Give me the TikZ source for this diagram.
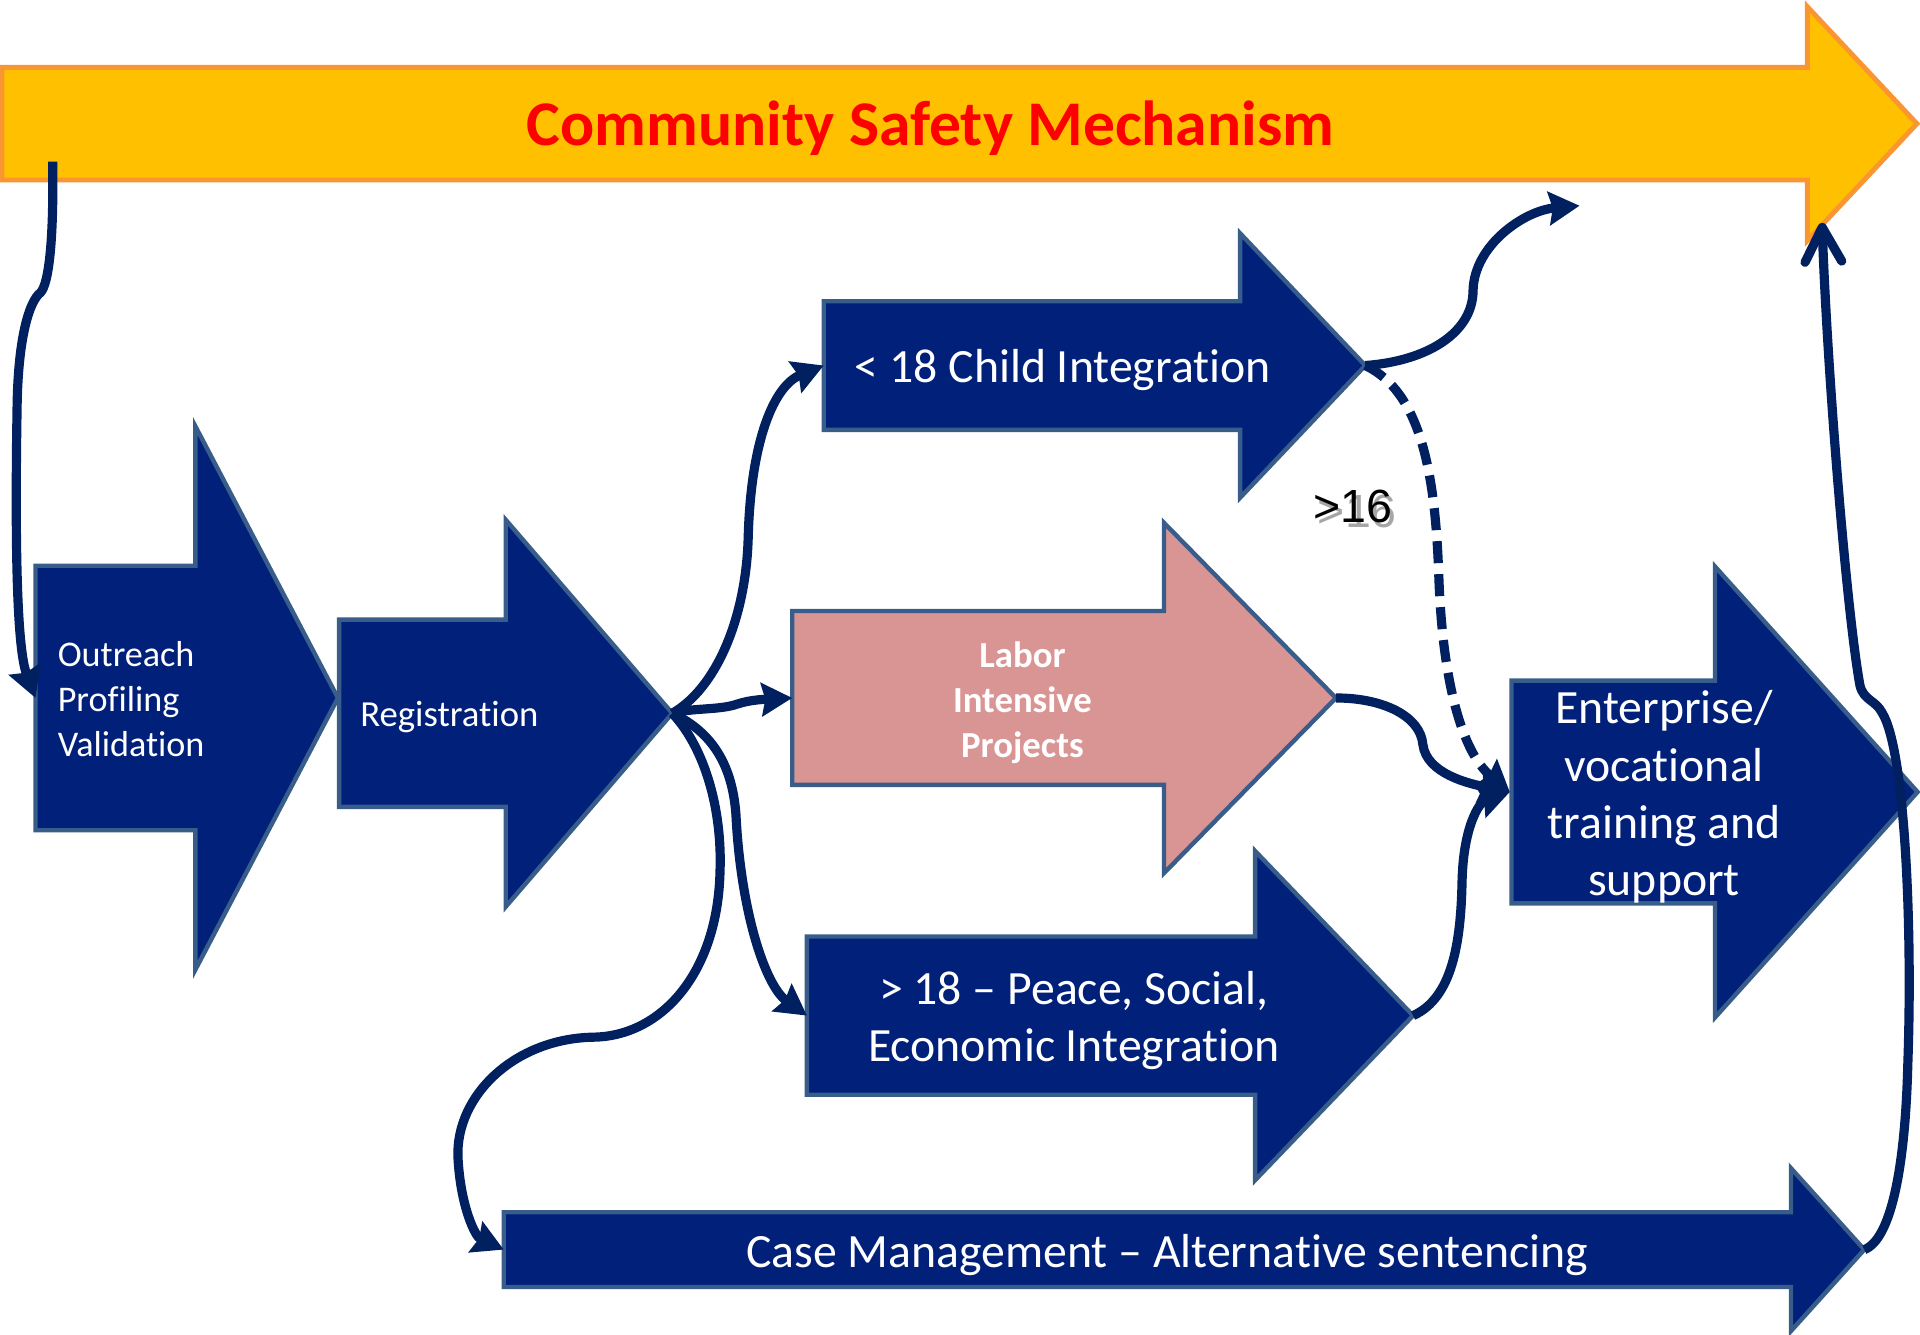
\documentclass[tikz,border=0pt]{standalone}
\usepackage{fontspec}
\setmainfont{Carlito}[Ligatures=NoCommon]
\newfontfamily\labelfont{Liberation Sans}
\usetikzlibrary{arrows.meta}

\definecolor{boxblue}{RGB}{0,32,122}
\definecolor{edgeblue}{RGB}{56,93,138}
\definecolor{linknavy}{RGB}{0,32,96}
\definecolor{bandgold}{RGB}{255,192,0}
\definecolor{bandedge}{RGB}{250,150,50}
\definecolor{laborpink}{RGB}{217,149,148}
\definecolor{titlered}{RGB}{255,0,0}

\begin{document}
\begin{tikzpicture}[x=1pt,y=-1pt,
  blockarrow/.style={fill=boxblue,draw=edgeblue,line width=3.6pt,line join=miter},
  bandarrow/.style={fill=bandgold,draw=bandedge,line width=4pt,line join=miter},
  pinkarrow/.style={fill=laborpink,draw=edgeblue,line width=3.6pt,line join=miter},
  flow/.style={draw=linknavy,line width=7.5pt,
    -{Stealth[length=25pt,width=27pt,inset=3pt]}},
  returnflow/.style={draw=linknavy,line width=7.5pt,
    -{Straight Barb[length=28pt,width=30pt,round]}},
  dashflow/.style={flow,dash pattern=on 18pt off 9pt},
  bigtext/.style={text=white,inner sep=0pt,font=\fontsize{39}{46.8}\selectfont,align=center},
  smalltext/.style={text=white,inner sep=0pt,font=\fontsize{29.5}{37}\selectfont,align=left},
]
\useasboundingbox (0,0) rectangle (1568,1090);

% ---- banner ----
\draw[bandarrow] (1.5,55) -- (1476,55) -- (1476,5.5) -- (1565.5,101) -- (1476,196.5) -- (1476,147) -- (1.5,147) -- cycle;
\node[text=titlered,inner sep=0pt,text height=33.4pt,text depth=0pt,
      font=\fontsize{52}{60}\selectfont\bfseries] (title) at (760,102) {Community Safety Mechanism};

% ---- process arrows ----
\draw[blockarrow] (29,462) -- (159.5,462) -- (159.5,348) -- (276,570) -- (159.5,792) -- (159.5,678) -- (29,678) -- cycle;
\draw[blockarrow] (277,506) -- (413,506) -- (413,424.5) -- (549,582.5) -- (413,740.5) -- (413,659) -- (277,659) -- cycle;
\draw[blockarrow] (672.7,246) -- (1012.7,246) -- (1012.7,190.5) -- (1115,298.5) -- (1012.7,406.5) -- (1012.7,351) -- (672.7,351) -- cycle;
\draw[pinkarrow] (647,499) -- (950.6,499) -- (950.6,427) -- (1091,570) -- (950.6,713) -- (950.6,641) -- (647,641) -- cycle;
\draw[blockarrow] (659,764.8) -- (1025,764.8) -- (1025,695) -- (1154,829.4) -- (1025,963.8) -- (1025,894) -- (659,894) -- cycle;
\draw[blockarrow] (1234.4,555.8) -- (1400.6,555.8) -- (1400.6,462.7) -- (1566,646.8) -- (1400.6,830.9) -- (1400.6,737.8) -- (1234.4,737.8) -- cycle;
\draw[blockarrow] (411.4,990) -- (1462.6,990) -- (1462.6,954) -- (1522.5,1020.5) -- (1462.6,1087) -- (1462.6,1051) -- (411.4,1051) -- cycle;

% ---- labels ----
\node[smalltext,anchor=west] (outreach) at (47,571) {Outreach\\Profiling\\Validation};
\node[smalltext,anchor=west,font=\fontsize{30}{36}\selectfont,text height=19.3pt,text depth=0pt] (registration) at (294,584) {Registration};
\node[bigtext,text height=25.1pt,text depth=0pt] (child) at (868,300) {< 18 Child Integration};
\node[text=white,inner sep=0pt,align=center,font=\fontsize{30}{36.8}\selectfont\bfseries] (labor) at (835,573.6) {Labor\\Intensive\\Projects};
\node[bigtext] (peace) at (877,833.4) {> 18 – Peace, Social,\\Economic Integration};
\node[bigtext] (enterprise) at (1359,651) {Enterprise/\\vocational\\training and\\support};
\node[bigtext,text height=25.1pt,text depth=0pt] (casemgmt) at (953,1022.5) {Case Management – Alternative sentencing};

% ---- connection points ----
\coordinate (band-base) at (43,132);
\coordinate (outreach-in) at (29,570);
\coordinate (reg-tip) at (549,582.5);
\coordinate (child-in) at (672.7,298.5);
\coordinate (child-tip) at (1115,298.5);
\coordinate (labor-in) at (647,570);
\coordinate (labor-tip) at (1091,570);
\coordinate (peace-in) at (659,829.4);
\coordinate (peace-tip) at (1154,829.4);
\coordinate (ent-in) at (1233,646.8);
\coordinate (case-in) at (411.4,1020.5);
\coordinate (case-tip) at (1522.5,1020.5);
\coordinate (child-exit) at (1290,168);
\coordinate (band-return) at (1488,182);

% ---- connectors ----
\draw[flow] (band-base) .. controls (44,195) and (40,232) .. (33,239)
  .. controls (24,246) and (15,275) .. (14,330)
  .. controls (12,450) and (14,530) .. (outreach-in);
\draw[flow] (reg-tip) .. controls (585,562) and (609,505) .. (611,440)
  .. controls (613,360) and (632,315) .. (child-in);
\draw[flow] (reg-tip) .. controls (565,578) and (588,580) .. (602,575)
  .. controls (614,571) and (628,571) .. (labor-in);
\draw[flow] (reg-tip) .. controls (582,598) and (598,625) .. (601,665)
  .. controls (605,745) and (625,805) .. (peace-in);
\draw[flow] (reg-tip) .. controls (575,610) and (590,660) .. (588,712)
  .. controls (586,795) and (540,846) .. (485,847)
  .. controls (420,848) and (372,895) .. (374,945)
  .. controls (376,985) and (388,1010) .. (case-in);
\draw[flow] (child-tip) .. controls (1165,295) and (1203,272) .. (1203,237)
  .. controls (1204,200) and (1245,172) .. (child-exit);
\draw[dashflow] (child-tip) .. controls (1160,320) and (1172,385) .. (1175,470)
  .. controls (1178,560) and (1195,615) .. (ent-in);
\draw[flow] (labor-tip) .. controls (1130,570) and (1160,585) .. (1162,608)
  .. controls (1165,632) and (1200,640) .. (ent-in);
\draw[flow] (peace-tip) .. controls (1186,815) and (1193,770) .. (1194,720)
  .. controls (1195,675) and (1208,655) .. (ent-in);
\draw[returnflow] (case-tip) .. controls (1545,1012) and (1556,950) .. (1558,870)
  .. controls (1562,760) and (1556,612) .. (1537,582)
  .. controls (1532,572) and (1522,572) .. (1519,560)
  .. controls (1508,500) and (1492,300) .. (band-return);

% ---- age label with soft shadow ----
\node[text=black,opacity=0.35,inner sep=0pt,text height=27.2pt,text depth=0pt,
      font=\labelfont\fontsize{38}{44}\selectfont] (age-shadow) at (1108.5,417.5) {>16};
\node[text=black,inner sep=0pt,text height=27.2pt,text depth=0pt,
      font=\labelfont\fontsize{38}{44}\selectfont] (age) at (1105,413) {>16};
\end{tikzpicture}
\end{document}
